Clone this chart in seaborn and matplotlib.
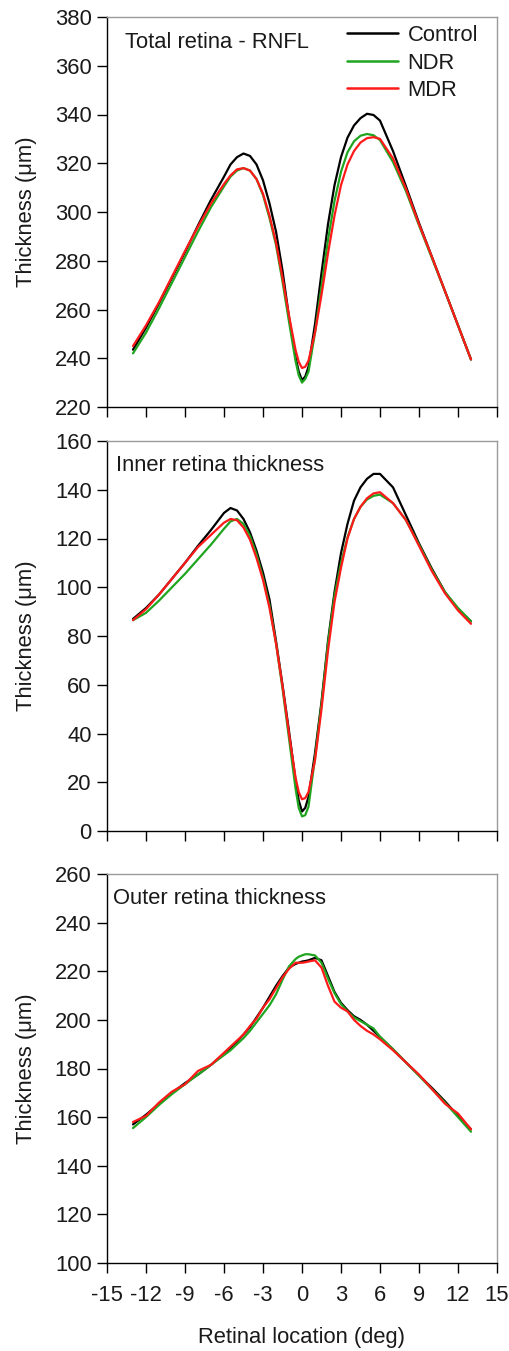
import matplotlib
matplotlib.use("Agg")
import matplotlib.pyplot as plt
import numpy as np
import pandas as pd
import seaborn as sns

sns.set_style("ticks")
plt.rcParams['font.family'] = ['Liberation Sans', 'DejaVu Sans']
plt.rcParams['axes.unicode_minus'] = False

# Retinal location (deg)
location = [-13, -12, -11, -10, -9, -8, -7,
            -6, -5.5, -5, -4.5, -4, -3.5, -3, -2.5, -2, -1.5, -1, -0.5, -0.25,
            0, 0.25, 0.5, 1, 1.5, 2, 2.5, 3, 3.5, 4, 4.5, 5, 5.5, 6,
            7, 8, 9, 10, 11, 12, 13]

groups = ["Control", "NDR", "MDR"]
colors = ["#000000", "#1fa51f", "#ff1a1a"]

# Total retina - RNFL
total_control = [243.5, 252.5, 262.5, 273, 283.5, 294.5, 305,
                 314.5, 319.5, 322.5, 324, 323, 319.5, 313, 303.5, 292, 276, 257, 240.5, 234.5,
                 231, 232.5, 236.5, 254, 275, 295, 311, 322.5, 330.5, 335.5, 338.5, 340.3, 339.8, 337.5,
                 325, 310.5, 295.5, 281.5, 267.5, 253.5, 239.5]
total_ndr = [242, 250.5, 260.5, 271, 281.5, 292, 302,
             310.5, 314.5, 317, 318, 317, 313.5, 307, 297.5, 286.5, 271.5, 255, 239, 233,
             230, 231.5, 234.5, 250.5, 269.5, 288.5, 304.5, 316.5, 324.5, 329, 331.3, 332, 331.5, 329.5,
             320.5, 308.5, 294.5, 281, 267.5, 253.5, 239.5]
total_mdr = [245, 253.5, 263, 273.5, 284, 294, 303.5,
             311.5, 315, 317.5, 318, 317, 313.5, 307.5, 298.5, 287.5, 273, 257.5, 243.5, 238.5,
             236, 236.5, 239, 250.5, 266, 283, 298.5, 311, 319.5, 325, 328.5, 330.3, 330.7, 330,
             322, 309.5, 295, 281.5, 267.5, 253.5, 239.5]

# Inner retina thickness
inner_control = [87, 91.5, 97, 103.5, 110, 117, 123.5,
                 130.5, 132.5, 131.5, 128, 122.5, 115, 106, 95, 78, 60, 41, 21, 12.5,
                 8, 9.5, 14, 32, 53, 78, 98, 114, 126, 135.5, 141, 144.5, 146.5, 146.5,
                 141, 129.5, 118, 107.5, 98, 91, 86]
inner_ndr = [86.5, 89.5, 94.5, 100, 105.5, 111.5, 117.5,
             124, 127, 128, 126, 121, 113.5, 104, 92.5, 77, 58.5, 38, 17.5, 9.5,
             6, 6.5, 10, 30, 52, 77, 96.5, 110, 120.5, 128, 133, 136, 137.5, 138,
             134.5, 127.5, 117.5, 107, 98, 91.5, 86]
inner_mdr = [86.5, 91, 97, 103.5, 110, 116.5, 121.5,
             126.5, 128, 127.5, 124.5, 119.5, 112, 103, 91.5, 77, 59.5, 40, 22, 16,
             13, 13.5, 16, 29, 50, 74, 94, 108, 120, 128, 133, 136.5, 138.5, 139,
             134.5, 127.5, 117, 106.5, 97.5, 90.5, 85]

# Outer retina thickness
outer_control = [157, 161, 165.5, 170, 174, 177.5, 181.5,
                 186, 188.5, 191, 194, 197, 201, 205, 209.5, 214, 218, 221.5, 223, 223.5,
                 224, 224.2, 224.5, 225.5, 224.5, 218, 211.5, 207, 204, 201.5, 200, 198, 195.5, 193,
                 187.8, 182.5, 177.2, 172, 166.5, 160.5, 155]
outer_ndr = [155.5, 160, 165, 169.5, 173.5, 177.5, 181.5,
             185.5, 187.5, 190, 192.5, 195.5, 199, 202.5, 206, 210.5, 216.5, 222, 225, 226,
             226.5, 227, 227, 226.5, 223.5, 217, 211, 206.5, 203.5, 201, 199.5, 198, 196.5, 193,
             188, 182.5, 177, 171.5, 166, 160, 154]
outer_mdr = [158, 160.5, 166, 170.5, 173.5, 179, 181.5,
             186.5, 189, 191.5, 194, 197.5, 200.5, 205, 208.5, 213, 217.5, 221, 223.5, 223.5,
             223.5, 223.7, 224, 224.5, 221.5, 214, 207.5, 205, 203.5, 200, 197.5, 195.5, 194, 192,
             187.5, 182.5, 177.5, 171.5, 165.5, 161.5, 155]

panel_titles = ["Total retina - RNFL", "Inner retina thickness", "Outer retina thickness"]
panel_data = [
    [total_control, total_ndr, total_mdr],
    [inner_control, inner_ndr, inner_mdr],
    [outer_control, outer_ndr, outer_mdr],
]
y_ranges = [(220, 380), (0, 160), (100, 260)]
x_ticks = list(range(-15, 16, 3))

W, H = 510, 1351
fig = plt.figure(figsize=(W / 100, H / 100), dpi=100)
boxes = [(407, 390), (831, 390), (1263, 389)]  # bottom pixel, height
title_y = [43, 465, 898]
title_x = [125, 116, 113]

FS = 15.8
TC = "#1a1a1a"
for i in range(3):
    bot, h = boxes[i]
    ax = fig.add_axes([107 / W, (H - bot) / H, 390 / W, h / H])
    rows = []
    for g, vals in zip(groups, panel_data[i]):
        for xv, yv in zip(location, vals):
            rows.append({"loc": xv, "thick": yv, "group": g})
    df = pd.DataFrame(rows)
    sns.lineplot(data=df, x="loc", y="thick", hue="group", hue_order=groups,
                 palette=colors, linewidth=1.6, ax=ax, legend=(i == 0), sort=True)
    ax.set_xlim(-15, 15)
    ax.set_ylim(*y_ranges[i])
    ax.set_xticks(x_ticks)
    ax.set_yticks(np.arange(y_ranges[i][0], y_ranges[i][1] + 1, 20))
    ax.tick_params(direction="out", length=7, width=1, labelsize=FS,
                   colors="black", labelcolor=TC)
    ax.tick_params(axis="x", pad=9)
    ax.tick_params(axis="y", pad=4)
    for s in ["top", "right"]:
        ax.spines[s].set_color("#9a9a9a")
        ax.spines[s].set_linewidth(1.0)
    for s in ["left", "bottom"]:
        ax.spines[s].set_color("black")
        ax.spines[s].set_linewidth(1.0)
    ax.set_ylabel("Thickness (\u03bcm)", fontsize=FS, color=TC)
    ax.yaxis.set_label_coords((37 - 107) / 390, 0.5)
    if i < 2:
        ax.set_xticklabels([])
        ax.set_xlabel("")
    else:
        ax.set_xlabel("Retinal location (deg)", fontsize=FS, color=TC)
        ax.xaxis.set_label_coords(0.5, (bot - 1327) / h)
    ax.text((title_x[i] - 107) / 390, (bot - title_y[i]) / h, panel_titles[i],
            transform=ax.transAxes, ha="left", va="center", fontsize=FS, color=TC)
    if i == 0:
        leg = ax.legend(title=None, frameon=False, loc="upper right",
                        bbox_to_anchor=((478 - 107) / 390, (407 - 25) / 390),
                        fontsize=FS, handlelength=2.3, handletextpad=0.45,
                        labelspacing=0.3, borderaxespad=0.0, borderpad=0.0)
        for t in leg.get_texts():
            t.set_color(TC)
        for ln in leg.get_lines():
            ln.set_linewidth(1.8)

fig.savefig("out.png", dpi=100)
